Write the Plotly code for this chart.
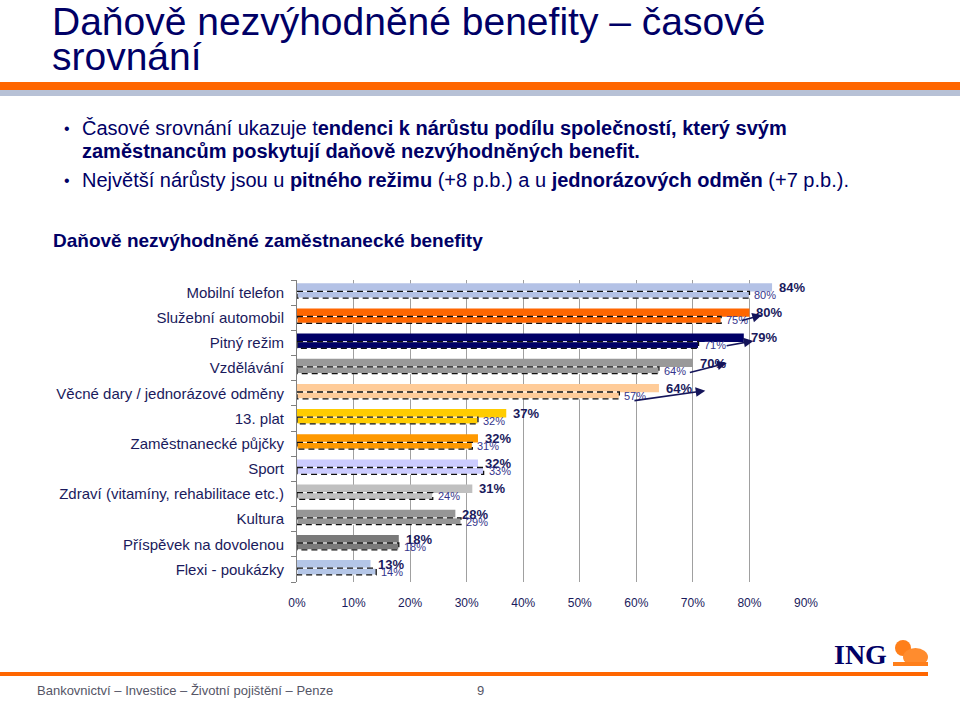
import plotly.graph_objects as go

# ---------------- data ----------------
CATEGORIES = [
    "Mobilní telefon",
    "Služební automobil",
    "Pitný režim",
    "Vzdělávání",
    "Věcné dary / jednorázové odměny",
    "13. plat",
    "Zaměstnanecké půjčky",
    "Sport",
    "Zdraví (vitamíny, rehabilitace etc.)",
    "Kultura",
    "Příspěvek na dovolenou",
    "Flexi - poukázky",
]
CURRENT = [84, 80, 79, 70, 64, 37, 32, 32, 31, 28, 18, 13]
PREVIOUS = [80, 75, 71, 64, 57, 32, 31, 33, 24, 29, 18, 14]
X_TICKS = [0, 10, 20, 30, 40, 50, 60, 70, 80, 90]
X_TICK_LABELS = ["0%", "10%", "20%", "30%", "40%", "50%", "60%", "70%", "80%", "90%"]

BAR_COLORS = ["#B4C2E6", "#FF6600", "#000066", "#999999", "#FFCC99", "#FFCC00",
              "#FF9900", "#CCCCFF", "#C0C0C0", "#969696", "#7A7A7A", "#B4C6E7"]

# arrows (row -> tail dx, tail dy, head dx, head dy), purely decorative styling
ARROW_STYLE = {1: (3.4, 0.13, 2.2, -0.11), 2: (4.7, 0.12, 1.7, -0.08),
               3: (5.2, 0.19, 6.0, -0.20), 4: (2.4, 0.30, 8.2, -0.10)}

NAVY = "#000066"
LABEL_NAVY = "#1a1a5c"
PREV_NAVY = "#35358c"
SANS = "Liberation Sans, Arial, sans-serif"

# plot-area pixel geometry
L, R, T, B = 297, 806, 280, 582
W, H = R - L, B - T


def px(x):
    return (x - L) / W


def py(y):
    return (B - y) / H


idx = list(range(len(CATEGORIES)))

fig = go.Figure()
fig.add_trace(go.Bar(
    y=idx, x=CURRENT, orientation="h", width=0.33, offset=-0.37,
    marker=dict(color=BAR_COLORS, line=dict(width=0)),
    hoverinfo="skip", showlegend=False,
))
fig.add_trace(go.Bar(
    y=idx, x=PREVIOUS, orientation="h", width=0.27, offset=-0.05,
    marker=dict(color=BAR_COLORS, line=dict(color="white", width=1)),
    hoverinfo="skip", showlegend=False,
))

shapes = []
annotations = []

# dashed outline of previous-period bars
for i, v in enumerate(PREVIOUS):
    shapes.append(dict(type="rect", xref="x", yref="y", x0=0, x1=v,
                       y0=i - 0.05, y1=i + 0.22,
                       line=dict(color="#111111", width=1.3, dash="6px,4px"),
                       fillcolor="rgba(0,0,0,0)", layer="above"))

# value labels
for i, (c, p) in enumerate(zip(CURRENT, PREVIOUS)):
    annotations.append(dict(x=c, y=i - 0.2, xref="x", yref="y", text=f"<b>{c}%</b>",
                            xanchor="left", yanchor="middle", xshift=5, showarrow=False,
                            font=dict(family=SANS, size=13, color=LABEL_NAVY)))
    annotations.append(dict(x=p, y=i + 0.1, xref="x", yref="y", text=f"{p}%",
                            xanchor="left", yanchor="middle", xshift=3, showarrow=False,
                            font=dict(family=SANS, size=11, color=PREV_NAVY)))

# arrows
for i, (tdx, tdy, hdx, hdy) in ARROW_STYLE.items():
    annotations.append(dict(x=CURRENT[i] + hdx, y=i + hdy, ax=PREVIOUS[i] + tdx, ay=i + tdy,
                            xref="x", yref="y", axref="x", ayref="y", text="",
                            showarrow=True, arrowhead=2, arrowsize=1.2, arrowwidth=1.6,
                            arrowcolor="#14145a", standoff=0, startstandoff=0))

# ---------------- slide decoration ----------------
annotations += [
    dict(x=px(50), y=py(21), xref="paper", yref="paper", xanchor="left", yanchor="middle",
         text="Daňově nezvýhodněné benefity – časové", showarrow=False,
         font=dict(family=SANS, size=39, color=NAVY)),
    dict(x=px(50), y=py(57), xref="paper", yref="paper", xanchor="left", yanchor="middle",
         text="srovnání", showarrow=False, font=dict(family=SANS, size=39, color=NAVY)),
    dict(x=px(62), y=py(128), xref="paper", yref="paper", xanchor="left", yanchor="middle",
         text="•", showarrow=False, font=dict(family=SANS, size=16, color=NAVY)),
    dict(x=px(80), y=py(128), xref="paper", yref="paper", xanchor="left", yanchor="middle",
         text="Časové srovnání ukazuje t<b>endenci k nárůstu podílu společností, který svým</b>",
         showarrow=False, font=dict(family=SANS, size=20, color=NAVY)),
    dict(x=px(80), y=py(151), xref="paper", yref="paper", xanchor="left", yanchor="middle",
         text="<b>zaměstnancům poskytují daňově nezvýhodněných benefit.</b>",
         showarrow=False, font=dict(family=SANS, size=20, color=NAVY)),
    dict(x=px(62), y=py(180), xref="paper", yref="paper", xanchor="left", yanchor="middle",
         text="•", showarrow=False, font=dict(family=SANS, size=16, color=NAVY)),
    dict(x=px(80), y=py(180), xref="paper", yref="paper", xanchor="left", yanchor="middle",
         text="Největší nárůsty jsou u <b>pitného režimu</b> (+8 p.b.) a u "
              "<b>jednorázových odměn</b> (+7 p.b.).",
         showarrow=False, font=dict(family=SANS, size=20, color=NAVY)),
    dict(x=px(51), y=py(241), xref="paper", yref="paper", xanchor="left", yanchor="middle",
         text="<b>Daňově nezvýhodněné zaměstnanecké benefity</b>", showarrow=False,
         font=dict(family=SANS, size=19, color=NAVY)),
    dict(x=px(35), y=py(690), xref="paper", yref="paper", xanchor="left", yanchor="middle",
         text="Bankovnictví – Investice – Životní pojištění – Penze", showarrow=False,
         font=dict(family=SANS, size=13, color="#555566")),
    dict(x=px(480), y=py(690), xref="paper", yref="paper", xanchor="center", yanchor="middle",
         text="9", showarrow=False, font=dict(family=SANS, size=13, color="#555566")),
    dict(x=px(889), y=py(654), xref="paper", yref="paper", xanchor="right", yanchor="middle",
         text="<b>ING</b>", showarrow=False,
         font=dict(family="Liberation Serif, Times New Roman, serif", size=28, color=NAVY)),
]

shapes += [
    dict(type="rect", xref="paper", yref="paper", x0=px(0), x1=px(960), y0=py(82), y1=py(90),
         fillcolor="#FF6600", line=dict(width=0), layer="below"),
    dict(type="rect", xref="paper", yref="paper", x0=px(0), x1=px(960), y0=py(90), y1=py(96),
         fillcolor="#B7C1D6", line=dict(width=0), layer="below"),
    dict(type="rect", xref="paper", yref="paper", x0=px(0), x1=px(928), y0=py(672), y1=py(676),
         fillcolor="#FF6600", line=dict(width=0), layer="below"),
    # simple lion mark
    dict(type="circle", xref="paper", yref="paper", x0=px(895), x1=px(911), y0=py(656), y1=py(640),
         fillcolor="#FF7F1A", line=dict(width=0)),
    dict(type="circle", xref="paper", yref="paper", x0=px(903), x1=px(928), y0=py(666), y1=py(648),
         fillcolor="#FF8C2E", line=dict(width=0)),
    dict(type="rect", xref="paper", yref="paper", x0=px(893), x1=px(928), y0=py(666), y1=py(662),
         fillcolor="#FF7F1A", line=dict(width=0)),
]

fig.update_layout(
    width=960, height=702,
    margin=dict(l=L, r=960 - R, t=T, b=702 - B),
    paper_bgcolor="white", plot_bgcolor="white",
    barmode="overlay",
    font=dict(family=SANS, color=LABEL_NAVY),
    shapes=shapes, annotations=annotations,
    xaxis=dict(range=[0, 90], tickmode="array", tickvals=X_TICKS, ticktext=X_TICK_LABELS,
               showgrid=True, gridcolor="#A0A0A0", gridwidth=1, zeroline=False, showline=False,
               ticks="", tickfont=dict(size=12, color=LABEL_NAVY), ticklabelstandoff=12,
               fixedrange=True),
    yaxis=dict(range=[len(CATEGORIES) - 0.5, -0.5], tickmode="array", tickvals=idx,
               ticktext=CATEGORIES,
               showgrid=False, zeroline=False, showline=True, linecolor="#808080", linewidth=1,
               ticks="", tickfont=dict(size=15, color=LABEL_NAVY), ticklabelstandoff=9,
               minor=dict(tickmode="array", tickvals=[i - 0.5 for i in idx] + [len(idx) - 0.5],
                          ticks="outside", ticklen=5, tickcolor="#808080", tickwidth=1),
               fixedrange=True),
)

fig.write_html("out.html", config={"displayModeBar": False},
               post_script="document.body.style.margin='0px';")
